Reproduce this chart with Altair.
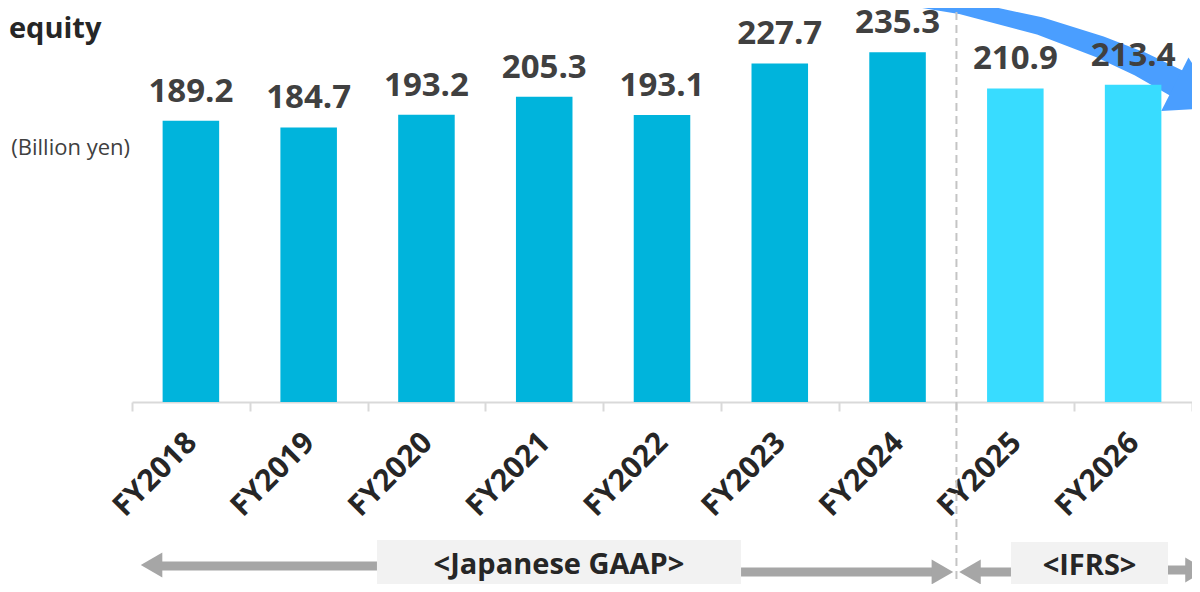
import altair as alt
import pandas as pd

# ---- data -------------------------------------------------------------
years = ["FY2018", "FY2019", "FY2020", "FY2021", "FY2022", "FY2023", "FY2024", "FY2025", "FY2026"]
values = [189.2, 184.7, 193.2, 205.3, 193.1, 227.7, 235.3, 210.9, 213.4]
standards = ["Japanese GAAP", "Japanese GAAP", "Japanese GAAP", "Japanese GAAP", "Japanese GAAP",
             "Japanese GAAP", "Japanese GAAP", "IFRS", "IFRS"]
std_domain = ["Japanese GAAP", "IFRS"]
std_colors = ["#00B4DC", "#38DCFF"]

title_text = "equity"
unit_text = "(Billion yen)"

# annotation positions, in band-index units (x) and value units (y)
divider_x = [7.0, 7.0]
divider_y = [271.0, -134.0]

curve_u = [6.393, 7.030, 7.709, 8.219, 8.558, 8.864]
curve_v = [273.1, 265.7, 252.9, 238.8, 227.4, 214.6]
curve_w = [12, 14, 18, 22, 25, 28]
head_u = [9.051]
head_v = [205.8]

shaft_u = [0.238, 5.171, 7.183, 8.796]
shaft_u2 = [2.080, 6.818, 7.463, 8.966]
shaft_v = [-110.3, -114.3, -114.3, -113.0]

tip_u = [0.166, 6.881, 7.115, 9.034]
tip_v = [-109.6, -114.3, -114.3, -113.0]
tip_shape = ["triangle-left", "triangle-right", "triangle-left", "triangle-right"]

box_u = [2.080, 7.463]
box_u2 = [5.171, 8.796]
box_v = [-92.8, -94.2]
box_v2 = [-134.0, -134.0]
box_text = ["<Japanese GAAP>", "<IFRS>"]
box_text_u = [3.625, 8.130]
box_text_v = [-116.0, -116.6]

# ---- tables -----------------------------------------------------------
bars = pd.DataFrame({"year": years, "value": values, "standard": standards})
divider = pd.DataFrame({"u": divider_x, "v": divider_y})
curve = pd.DataFrame({"u": curve_u, "v": curve_v, "w": curve_w, "i": list(range(len(curve_u)))})
head = pd.DataFrame({"u": head_u, "v": head_v})
shafts = pd.DataFrame({"u": shaft_u, "u2": shaft_u2, "v": shaft_v})
tips = pd.DataFrame({"u": tip_u, "v": tip_v, "shape": tip_shape})
boxes = pd.DataFrame({"u": box_u, "u2": box_u2, "v": box_v, "v2": box_v2,
                      "label": box_text, "tu": box_text_u, "tv": box_text_v})
title_df = pd.DataFrame({"u": [-1.045], "v": [244.8], "label": [title_text]})
unit_df = pd.DataFrame({"u": [-0.017], "v": [170.8], "label": [unit_text]})

FONT = "Open Sans"
ys = alt.Scale(domain=[0, 265], nice=False, zero=False)
us = alt.Scale(domain=[0, 9], nice=False, zero=False)


def ux(field="u"):
    return alt.X(f"{field}:Q", scale=us, axis=None)


def vy(field="v"):
    return alt.Y(f"{field}:Q", scale=ys, axis=None)


xband = alt.X(
    "year:N", sort=years, title=None,
    scale=alt.Scale(paddingInner=0, paddingOuter=0),
    axis=alt.Axis(labelAngle=-45, labelFont=FONT, labelFontWeight="bold", labelFontSize=30,
                  labelColor="#262626", domainColor="#d9d9d9", domainWidth=2,
                  tickColor="#d9d9d9", tickWidth=2, tickSize=9, tickBand="extent",
                  labelPadding=16, labelOffset=-10),
)

bar_layer = alt.Chart(bars).mark_bar(width=alt.RelativeBandSize(0.48)).encode(
    x=xband,
    y=alt.Y("value:Q", scale=ys, axis=None),
    color=alt.Color("standard:N", scale=alt.Scale(domain=std_domain, range=std_colors), legend=None),
)

value_layer = alt.Chart(bars).mark_text(
    font=FONT, fontWeight="bold", fontSize=33, color="#404040", baseline="alphabetic", dy=-19
).encode(
    x=alt.X("year:N", sort=years, scale=alt.Scale(paddingInner=0, paddingOuter=0), axis=None),
    y=alt.Y("value:Q", scale=ys, axis=None),
    text=alt.Text("value:Q", format=".1f"),
)

curve_layer = alt.Chart(curve).mark_trail(color="#4A9EFF").encode(
    x=ux(), y=vy(), size=alt.Size("w:Q", scale=None, legend=None), order="i:Q"
)
head_layer = alt.Chart(head).mark_point(
    shape="triangle-right", filled=True, size=3600, angle=27, color="#4A9EFF", opacity=1, strokeWidth=0
).encode(x=ux(), y=vy())

divider_layer = alt.Chart(divider).mark_line(
    color="#c4c4c4", strokeWidth=2, strokeDash=[8, 5]
).encode(x=ux(), y=vy())

shaft_layer = alt.Chart(shafts).mark_rule(color="#a6a6a6", strokeWidth=9).encode(
    x=ux(), x2="u2:Q", y=vy(), y2="v:Q"
)
tip_layer = alt.Chart(tips).mark_point(filled=True, size=620, color="#a6a6a6", opacity=1, strokeWidth=0).encode(
    x=ux(), y=vy(), shape=alt.Shape("shape:N", scale=None)
)
box_layer = alt.Chart(boxes).mark_rect(color="#f2f2f2").encode(
    x=ux(), x2="u2:Q", y=vy(), y2="v2:Q"
)
box_text_layer = alt.Chart(boxes).mark_text(
    font=FONT, fontWeight="bold", fontSize=29, color="#262626", baseline="alphabetic", align="center"
).encode(x=ux("tu"), y=vy("tv"), text="label:N")

title_layer = alt.Chart(title_df).mark_text(
    font=FONT, fontWeight="bold", fontSize=29, color="#262626", baseline="alphabetic", align="left"
).encode(x=ux(), y=vy(), text="label:N")
unit_layer = alt.Chart(unit_df).mark_text(
    font=FONT, fontSize=22, color="#404040", baseline="middle", align="right"
).encode(x=ux(), y=vy(), text="label:N")

chart = alt.layer(
    curve_layer, head_layer, bar_layer, divider_layer, value_layer,
    shaft_layer, tip_layer, box_layer, box_text_layer, title_layer, unit_layer,
).resolve_scale(x="independent").properties(
    width=1060, height=394,
    autosize=alt.AutoSizeParams(type="none"),
    padding={"left": 124, "top": 0, "right": 0, "bottom": 182},
).configure_view(stroke=None)

chart.save("out.html", embed_options={"renderer": "svg", "actions": False})
